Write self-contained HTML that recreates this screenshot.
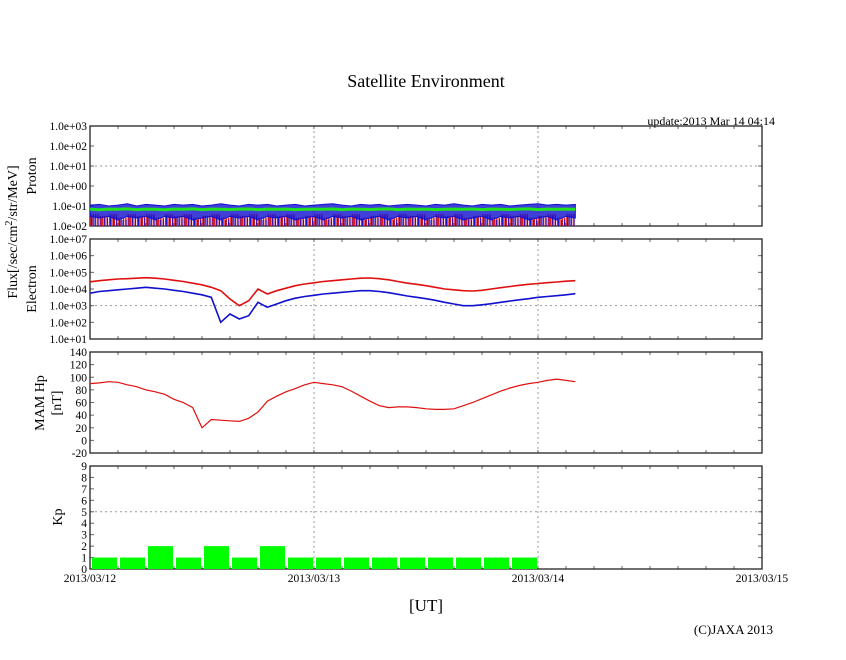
<!DOCTYPE html>
<html><head><meta charset="utf-8">
<style>
body{margin:0;background:#fff;}
svg text{font-family:"Liberation Serif",serif;fill:#000;}
</style></head>
<body>
<svg id="chart" width="846" height="655" viewBox="0 0 846 655" xmlns="http://www.w3.org/2000/svg">
<rect width="846" height="655" fill="#fff"/>
<text x="426" y="87" font-size="18" text-anchor="middle">Satellite Environment</text>
<text x="775" y="125" font-size="12" text-anchor="end">update:2013 Mar 14 04:14</text>
<text x="426" y="611" font-size="17" text-anchor="middle">[UT]</text>
<text x="773" y="634" font-size="13" text-anchor="end">(C)JAXA 2013</text>
<g id="panels"></g>
</svg>
<script>
// ---- data ----
const dateLabels = ["2013/03/12","2013/03/13","2013/03/14","2013/03/15"];
const protonTicks = ["1.0e-02","1.0e-01","1.0e+00","1.0e+01","1.0e+02","1.0e+03"];
const electronTicks = ["1.0e+01","1.0e+02","1.0e+03","1.0e+04","1.0e+05","1.0e+06","1.0e+07"];
const hpTicks = [-20,0,20,40,60,80,100,120,140];
const kpTicks = [0,1,2,3,4,5,6,7,8,9];
// hourly values, hours 0..52 from 2013/03/12 00UT
const protonBlueHigh = [0.11,0.12,0.1,0.11,0.13,0.1,0.12,0.11,0.1,0.12,0.11,0.12,0.1,0.11,0.13,0.11,0.1,0.12,0.11,0.12,0.1,0.11,0.12,0.1,0.11,0.12,0.13,0.11,0.1,0.12,0.11,0.12,0.1,0.11,0.12,0.11,0.1,0.12,0.11,0.13,0.11,0.1,0.12,0.11,0.12,0.1,0.11,0.12,0.13,0.11,0.12,0.11,0.12];
const protonBlueLow = [0.03,0.025,0.03,0.02,0.03,0.025,0.03,0.02,0.03,0.025,0.03,0.02,0.025,0.03,0.02,0.03,0.025,0.03,0.02,0.03,0.025,0.03,0.02,0.025,0.03,0.02,0.03,0.025,0.03,0.02,0.025,0.03,0.02,0.03,0.025,0.03,0.02,0.03,0.025,0.03,0.02,0.025,0.03,0.02,0.03,0.025,0.03,0.02,0.025,0.03,0.02,0.03,0.025];
const protonGreen = [0.07,0.065,0.07,0.068,0.072,0.066,0.07,0.069,0.065,0.07,0.068,0.072,0.066,0.07,0.069,0.067,0.07,0.071,0.066,0.07,0.068,0.07,0.066,0.069,0.07,0.068,0.071,0.066,0.07,0.069,0.067,0.07,0.072,0.066,0.07,0.068,0.07,0.066,0.069,0.07,0.068,0.071,0.066,0.07,0.069,0.067,0.07,0.072,0.066,0.07,0.068,0.07,0.069];
const electronRed = [4.43,4.5,4.55,4.6,4.62,4.65,4.68,4.65,4.6,4.52,4.45,4.35,4.25,4.1,3.9,3.4,3.0,3.3,4.0,3.7,3.9,4.05,4.2,4.3,4.37,4.45,4.5,4.55,4.6,4.65,4.66,4.62,4.55,4.45,4.35,4.28,4.2,4.1,4.0,3.95,3.9,3.88,3.92,4.0,4.08,4.15,4.22,4.28,4.33,4.38,4.42,4.47,4.5];
const electronBlue = [3.75,3.85,3.9,3.95,4.0,4.05,4.1,4.05,4.0,3.92,3.85,3.75,3.65,3.5,2.0,2.5,2.2,2.4,3.2,2.9,3.1,3.3,3.45,3.55,3.62,3.7,3.75,3.8,3.85,3.9,3.9,3.85,3.78,3.68,3.58,3.5,3.42,3.32,3.2,3.1,3.0,3.0,3.05,3.12,3.2,3.28,3.35,3.42,3.5,3.55,3.6,3.65,3.72];
const hpValues = [90,91,93,92,88,85,80,77,73,65,60,52,20,33,32,31,30,35,45,62,70,77,82,88,92,90,88,85,78,70,62,55,52,53,53,52,50,49,49,50,55,60,66,72,78,83,87,90,92,95,97,95,93];
const kpValues = [1,1,2,1,2,1,2,1,1,1,1,1,1,1,1,1];

// ---- layout ----
const NS="http://www.w3.org/2000/svg";
const X0=90, X1=762;
const g=document.getElementById('panels');
function xHour(h){return X0+(X1-X0)*h/72;}
function el(tag,attrs,parent){const e=document.createElementNS(NS,tag);for(const k in attrs)e.setAttribute(k,attrs[k]);(parent||g).appendChild(e);return e;}
function frame(name,top,bot,ticks,yf,labelFmt,gridVals){
  const grp=el('g',{});
  
  
  for(let d=1;d<3;d++){const l=el('line',{x1:xHour(24*d),x2:xHour(24*d),y1:top,y2:bot,stroke:'#999','stroke-dasharray':'2,3'},grp);}
  gridVals.forEach(v=>{const l=el('line',{x1:X0,x2:X1,y1:yf(v),y2:yf(v),stroke:'#999','stroke-dasharray':'2,3'},grp);});
  for(let h=3;h<72;h+=3){el('line',{x1:xHour(h),x2:xHour(h),y1:top,y2:top+3,stroke:'#666'},grp);el('line',{x1:xHour(h),x2:xHour(h),y1:bot,y2:bot-3,stroke:'#666'},grp);}
  ticks.forEach((t,i)=>{const y=yf(t.v);
    el('line',{x1:X0,x2:X0+4,y1:y,y2:y,stroke:'#666'},grp);el('line',{x1:X1,x2:X1-4,y1:y,y2:y,stroke:'#666'},grp);
    const tx=el('text',{x:X0-3,y:y+4,'font-size':11.5,'text-anchor':'end'},grp);tx.textContent=t.l;
    });
  const r=el('rect',{x:X0,y:top,width:X1-X0,height:bot-top,fill:'none',stroke:'#222','stroke-width':1.3},grp);
  
  return grp;
}
function pathFrom(vals,xf,yf){return vals.map((v,i)=>(i?'L':'M')+xf(i).toFixed(1)+','+yf(v).toFixed(1)).join('');}

// Proton panel
const pT=126,pB=226;
const pY=v=>pB-(pB-pT)*(Math.log10(v)+2)/5;
const pg=frame('proton-panel',pT,pB,protonTicks.map((l,i)=>({v:Math.pow(10,i-2),l})),pY,null,[10]);
const pArea=protonBlueHigh.map((v,i)=>(i?'L':'M')+xHour(i)+','+pY(v)).join('')+protonBlueLow.map((v,i)=>'L'+xHour(protonBlueLow.length-1-i)+','+pY(protonBlueLow[protonBlueLow.length-1-i])).join('')+'Z';
const redSp=el('g',{},pg);


for(let i=0;i<protonBlueLow.length-1;i++){for(let k=0;k<4;k++){const x=xHour(i+k*0.25+0.1);el('line',{x1:x,x2:x,y1:pB,y2:pY(protonBlueLow[i]*1.3),stroke:'#e02020','stroke-width':1.5},redSp);}}
const pb=el('path',{d:pArea,fill:'#1010d0',stroke:'#1010d0','stroke-width':1,'fill-opacity':0.8},pg);

const blueSp=el('g',{},pg);
for(let i=0;i<protonBlueLow.length-1;i++){for(let k=0;k<3;k++){const x=xHour(i+k*0.33+0.2);el('line',{x1:x,x2:x,y1:pB,y2:pY(protonBlueLow[i]),stroke:'#1010d0','stroke-width':1},blueSp);}}
const pgLine=el('path',{d:pathFrom(protonGreen,xHour,pY),fill:'none',stroke:'#20e020','stroke-width':3},pg);


// Electron panel
const eT=239,eB=339;
const eY=v=>eB-(eB-eT)*(v-1)/6;
const eg=frame('electron-panel',eT,eB,electronTicks.map((l,i)=>({v:i+1,l})),eY,null,[3]);
const er=el('path',{d:pathFrom(electronRed,xHour,eY),fill:'none',stroke:'#e01010','stroke-width':1.6},eg);

const eb=el('path',{d:pathFrom(electronBlue,xHour,eY),fill:'none',stroke:'#1010d0','stroke-width':1.6},eg);


// Hp panel
const hT=352,hB=453;
const hY=v=>hB-(hB-hT)*(v+20)/160;
const hg=frame('hp-panel',hT,hB,hpTicks.map(v=>({v,l:String(v)})),hY,null,[]);
const hl=el('path',{d:pathFrom(hpValues,xHour,hY),fill:'none',stroke:'#e01010','stroke-width':1.2},hg);


// Kp panel
const kT=466,kB=569;
const kY=v=>kB-(kB-kT)*v/9;
const kg=frame('kp-panel',kT,kB,kpTicks.map(v=>({v,l:String(v)})),kY,null,[5]);
kpValues.forEach((v,i)=>{const x0=xHour(i*3)+2,x1=xHour(i*3+3)-1;
  const b=el('rect',{x:x0,y:kY(v),width:x1-x0,height:kB-kY(v),fill:'#00ff00'},kg);
  });

dateLabels.forEach((d,i)=>{const t=el('text',{x:xHour(24*i),y:582,'font-size':11.5,'text-anchor':'middle'});t.textContent=d;
  });

function vt(txt,x,y,name,fs){const t=el('text',{x:0,y:0,'font-size':fs,'text-anchor':'middle',transform:`translate(${x},${y}) rotate(-90)`});t.innerHTML=txt;}
vt('Flux[/sec/cm<tspan baseline-shift="super" font-size="10">2</tspan>/str/MeV]',17,232,'flux-axis-title',14);
vt('Proton',36,176,'proton-axis-title',14);
vt('Electron',36,289,'electron-axis-title',14);
vt('MAM Hp',44,403,'hp-axis-title',14);
vt('[nT]',61,403,'hp-unit-title',14);
vt('Kp',62,517,'kp-axis-title',14);
</script>
</body></html>
